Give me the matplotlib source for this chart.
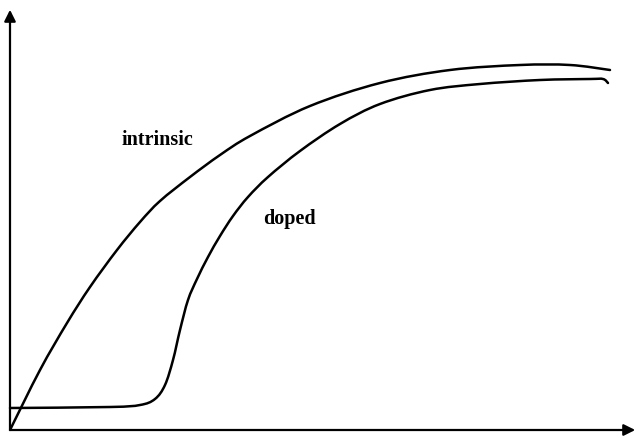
import numpy as np
import matplotlib.pyplot as plt
from matplotlib.path import Path
from matplotlib.patches import PathPatch

# curve points (x to the right, y up from the bottom edge)
intrinsic_x = [10, 40, 67, 90, 117, 140, 160, 190, 220, 250, 310, 380, 450, 520, 570, 610]
intrinsic_y = [8, 68, 115, 151, 188, 216, 237, 261, 283, 302, 332, 355, 368, 373, 373, 368]

doped_x = [10, 110, 140, 155, 165, 173, 180, 188, 197, 208, 220, 233, 248, 268,
           300, 340, 380, 430, 480, 540, 590, 603, 608]
doped_y = [30, 31, 33, 39, 53, 78, 108, 138, 159, 181, 202, 222, 241, 261,
           287, 314, 334, 348, 354, 358, 359, 359, 355]

labels = ['intrinsic', 'doped']
label_pos = [(157, 298), (289, 219)]


def smooth_path(xs, ys):
    # catmull-rom through the points, drawn as cubic bezier segments
    p = np.column_stack([xs, ys]).astype(float)
    p = np.vstack([p[0], p, p[-1]])
    verts = [p[1]]
    codes = [Path.MOVETO]
    for i in range(1, len(p) - 2):
        c1 = p[i] + (p[i + 1] - p[i - 1]) / 6
        c2 = p[i + 1] - (p[i + 2] - p[i]) / 6
        verts += [c1, c2, p[i + 1]]
        codes += [Path.CURVE4] * 3
    return Path(verts, codes)


fig = plt.figure(figsize=(6.43, 4.38), dpi=100)
ax = fig.add_axes([0, 0, 1, 1])
ax.set_xlim(0, 643)
ax.set_ylim(0, 438)
ax.axis('off')

for xs, ys in [(intrinsic_x, intrinsic_y), (doped_x, doped_y)]:
    ax.add_patch(PathPatch(smooth_path(xs, ys), fill=False, edgecolor='k',
                           lw=1.8, capstyle='round'))

# axes with arrowheads
ax.annotate('', xy=(10, 431), xytext=(10, 6),
            arrowprops=dict(arrowstyle='-|>', color='k', lw=1.6, mutation_scale=17))
ax.annotate('', xy=(638, 8), xytext=(8, 8),
            arrowprops=dict(arrowstyle='-|>', color='k', lw=1.6, mutation_scale=17))

for lab, (tx, ty) in zip(labels, label_pos):
    ax.text(tx, ty, lab, ha='center', va='center',
            family='Liberation Serif', fontweight='bold', fontsize=14.5)

fig.savefig('out.png', dpi=100)
